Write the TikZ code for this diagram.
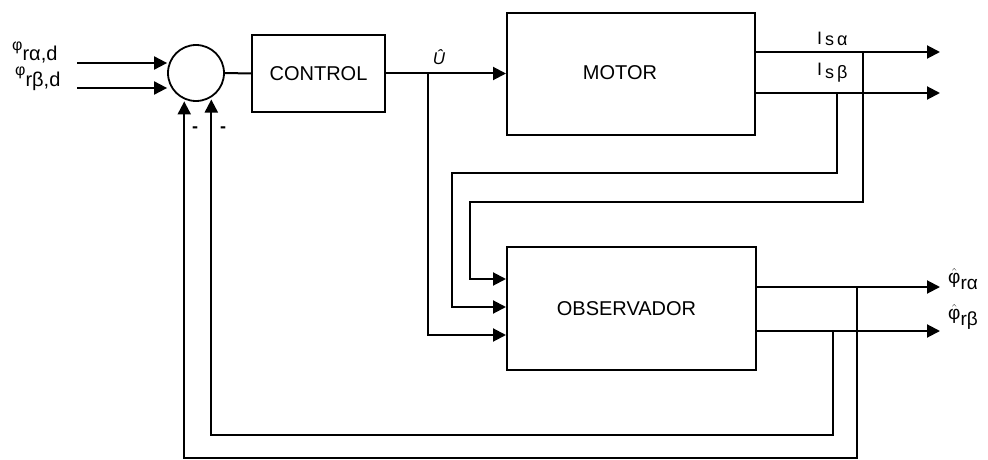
\documentclass[tikz,border=0pt]{standalone}
\usepackage{fontspec}
\setmainfont{Liberation Sans}
\usetikzlibrary{arrows.meta}
\newcommand\inlbl[1]{{\fontsize{16}{16}\selectfont φ}\raisebox{-10pt}{\fontsize{20}{20}\selectfont #1}}
\newcommand\hatphi{$\hat{\hbox{φ}}$}
\begin{document}
\begin{tikzpicture}[x=1pt,y=-1pt,
  wire/.style={line width=2pt},
  arr/.style={line width=2pt,-{Triangle[length=13pt,width=13pt]}},
  box/.style={draw,line width=2pt,rectangle,font=\fontsize{20}{20}\selectfont},
  lbl/.style={inner sep=0pt,font=\fontsize{18}{18}\selectfont}]
\useasboundingbox (0,0) rectangle (988,460);
% blocks
\node[draw,circle,minimum size=56pt,line width=1.8pt,inner sep=0pt] (sum) at (196,73) {};
\node[box,minimum width=133pt,minimum height=77pt] (ctrl) at (318.5,73.5) {CONTROL};
\node[box,minimum width=248pt,minimum height=122pt] (motor) at (631,74) {\raisebox{3pt}{MOTOR}\hspace*{22pt}};
\node[box,minimum width=249pt,minimum height=123pt] (obs) at (631.5,308.5) {\raisebox{-2pt}{OBSERVADOR}\hspace*{10pt}};
% coordinates
\coordinate (ia) at (77,63);
\coordinate (ib) at (77,88);
\coordinate (ub) at (428,73.5);
\coordinate (oIa) at (940,52);
\coordinate (oIb) at (940,93);
\coordinate (tIa) at (863,52);
\coordinate (tIb) at (837,93);
\coordinate (cIa) at (470,202);
\coordinate (cIb) at (452,173);
\coordinate (oFa) at (940,287);
\coordinate (oFb) at (940,331);
\coordinate (tFa) at (857,287);
\coordinate (tFb) at (833,331);
\coordinate (bFa) at (857,458);
\coordinate (bFb) at (833,435);
% inputs
\draw[arr] (ia) -- (ia -| sum.west);
\draw[arr] (ib) -- (ib -| sum.west);
\node[lbl,anchor=base west] (lia) at (12,51) {\inlbl{rα,d}};
\node[lbl,anchor=base west] (lib) at (15,76) {\inlbl{rβ,d}};
% forward path
\draw[wire] (sum.east) -- (ctrl.west);
\draw[arr] (ctrl.east) -- (motor.west |- ctrl.east);
\node[lbl,font=\fontsize{17}{17}\selectfont\itshape] (ulbl) at (439,57) {Û};
% motor outputs
\draw[arr] (motor.east |- oIa) -- (oIa);
\draw[arr] (motor.east |- oIb) -- (oIb);
\node[lbl,anchor=base west] (lIa) at (817,45) {I\,\raisebox{-1pt}{s\,α}};
\node[lbl,anchor=base west] (lIb) at (817,76) {I\,\raisebox{-2pt}{s\,β}};
% measurement feedback to observer
\draw[arr] (tIa) |- (cIa) |- (obs.west |- 0,279);
\draw[arr] (tIb) |- (cIb) |- (obs.west |- 0,307);
\draw[arr] (ub) |- (obs.west |- 0,335);
% observer outputs
\draw[arr] (obs.east |- oFa) -- (oFa);
\draw[arr] (obs.east |- oFb) -- (oFb);
\node[lbl,anchor=base west,font=\fontsize{19}{19}\selectfont] (lFa) at (948,283) {\hatphi\raisebox{-6pt}{rα}};
\node[lbl,anchor=base west,font=\fontsize{19}{19}\selectfont] (lFb) at (948,319) {\hatphi\raisebox{-6pt}{rβ}};
% flux feedback to summing junction
\draw[arr,shorten >=2pt] (tFa) -- (bFa) -| (sum.246);
\draw[arr,shorten >=2pt] (tFb) -- (bFb) -| (sum.302);
\node[lbl,font=\fontsize{18}{18}\selectfont\bfseries] (m1) at (195,130) {-};
\node[lbl,font=\fontsize{18}{18}\selectfont\bfseries] (m2) at (223,130) {-};
\end{tikzpicture}
\end{document}
